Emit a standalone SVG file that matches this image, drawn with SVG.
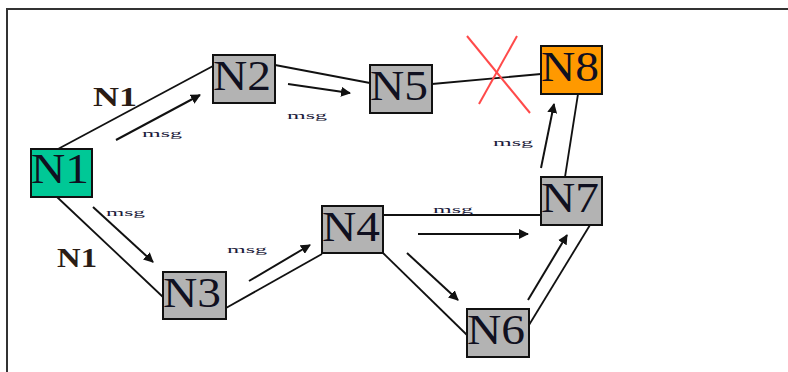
<svg xmlns="http://www.w3.org/2000/svg" width="788" height="372" viewBox="0 0 788 372">
<style>
.box{fill:#b3b3b3;stroke:#111;stroke-width:2}
.nt{font-family:"Liberation Serif",serif;font-size:42px;fill:#101020}
.ln{stroke:#111;stroke-width:1.8;fill:none}
.ar{stroke:#111;stroke-width:2;fill:none;marker-end:url(#ah)}
.lb{font-family:"Liberation Serif",serif;font-weight:bold;font-size:28px;fill:#2a1c14}
.mg{font-family:"Liberation Serif",serif;font-size:11px;fill:#1a1a3a}
</style>
<defs>
<marker id="ah" viewBox="0 0 10 10" refX="9" refY="5" markerWidth="5" markerHeight="5" orient="auto" markerUnits="strokeWidth">
<path d="M0,0 L10,5 L0,10 z" fill="#111"/>
</marker>
</defs>
<rect width="788" height="372" fill="#fff"/>
<path d="M7,372 V9 H788" fill="none" stroke="#333" stroke-width="2"/>
<g id="connectors">
<line class="ln" x1="58" y1="149" x2="213" y2="66"/>
<line class="ln" x1="275" y1="65" x2="370" y2="83"/>
<line class="ln" x1="432" y1="84" x2="541" y2="74"/>
<line class="ln" x1="578" y1="94" x2="565" y2="177"/>
<line class="ln" x1="57" y1="197" x2="163" y2="297"/>
<line class="ln" x1="226" y1="308" x2="322" y2="254"/>
<line class="ln" x1="383" y1="215" x2="541" y2="215"/>
<line class="ln" x1="383" y1="253" x2="467" y2="335"/>
<line class="ln" x1="529" y1="325" x2="590" y2="225"/>
<line class="ar" x1="116" y1="140" x2="200" y2="95"/>
<line class="ar" x1="288" y1="84" x2="350" y2="93"/>
<line class="ar" x1="93" y1="207" x2="153" y2="262"/>
<line class="ar" x1="249" y1="281" x2="310" y2="245"/>
<line class="ar" x1="418" y1="234" x2="528" y2="234"/>
<line class="ar" x1="407" y1="253" x2="458" y2="300"/>
<line class="ar" x1="528" y1="300" x2="567" y2="235"/>
<line class="ar" x1="541" y1="168" x2="554" y2="104"/>
</g>
<g id="cross" stroke="#ff4a4a" stroke-width="2" fill="none">
<line x1="467" y1="36" x2="530" y2="113"/>
<line x1="517" y1="36" x2="479" y2="104"/>
</g>
<g id="N1"><rect class="box" x="31" y="149" width="61" height="48" fill="#00c896" style="fill:#00c896"/><text class="nt" x="31" y="183" textLength="58" lengthAdjust="spacingAndGlyphs">N1</text></g>
<g id="N2"><rect class="box" x="213" y="55" width="62" height="48"/><text class="nt" x="213" y="90" textLength="58" lengthAdjust="spacingAndGlyphs">N2</text></g>
<g id="N5"><rect class="box" x="370" y="65" width="62" height="48"/><text class="nt" x="370" y="100" textLength="58" lengthAdjust="spacingAndGlyphs">N5</text></g>
<g id="N8"><rect class="box" x="541" y="46" width="61" height="48" style="fill:#ff9900"/><text class="nt" x="541" y="81" textLength="58" lengthAdjust="spacingAndGlyphs">N8</text></g>
<g id="N7"><rect class="box" x="541" y="177" width="61" height="48"/><text class="nt" x="541" y="212" textLength="58" lengthAdjust="spacingAndGlyphs">N7</text></g>
<g id="N4"><rect class="box" x="322" y="206" width="61" height="47"/><text class="nt" x="322" y="241" textLength="58" lengthAdjust="spacingAndGlyphs">N4</text></g>
<g id="N3"><rect class="box" x="163" y="272" width="63" height="47"/><text class="nt" x="163" y="307" textLength="58" lengthAdjust="spacingAndGlyphs">N3</text></g>
<g id="N6"><rect class="box" x="467" y="309" width="62" height="48"/><text class="nt" x="467" y="344" textLength="58" lengthAdjust="spacingAndGlyphs">N6</text></g>
<g id="labels">
<text class="lb" x="93" y="106" textLength="44" lengthAdjust="spacingAndGlyphs">N1</text>
<text class="lb" x="57" y="267" textLength="40" lengthAdjust="spacingAndGlyphs">N1</text>
<text class="mg" x="142" y="137" textLength="40" lengthAdjust="spacingAndGlyphs">msg</text>
<text class="mg" x="287" y="119" textLength="40" lengthAdjust="spacingAndGlyphs">msg</text>
<text class="mg" x="493" y="146" textLength="40" lengthAdjust="spacingAndGlyphs">msg</text>
<text class="mg" x="106" y="216" textLength="39" lengthAdjust="spacingAndGlyphs">msg</text>
<text class="mg" x="227" y="253" textLength="40" lengthAdjust="spacingAndGlyphs">msg</text>
<text class="mg" x="433" y="213" textLength="40" lengthAdjust="spacingAndGlyphs">msg</text>
</g>
</svg>
